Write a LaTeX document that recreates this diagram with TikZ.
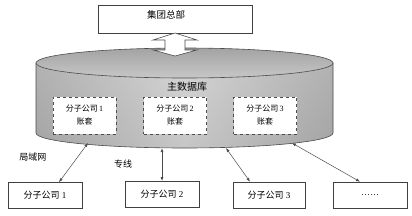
\documentclass[tikz,border=0pt]{standalone}
\usepackage{fontspec}
\setmainfont{Liberation Serif}
\newfontfamily\cjk{Noto Sans CJK SC}
\usetikzlibrary{arrows.meta}
\begin{document}
\begin{tikzpicture}[x=1pt,y=-1pt,
  plainbox/.style={draw=black!75,line width=0.6pt,fill=white,minimum height=26pt,inner sep=0pt,font=\fontsize{9}{10}\selectfont},
  acctbox/.style={draw=black!70,dashed,line width=0.6pt,fill=white,minimum width=63pt,minimum height=37pt,inner sep=0pt,align=center,font=\fontsize{8}{13}\selectfont},
  link/.style={draw=black!70,line width=0.5pt,{Latex[length=4pt,width=3pt]}-{Latex[length=4pt,width=3pt]}},
  lbl/.style={font=\fontsize{9}{10}\selectfont,inner sep=0pt}]
\useasboundingbox (0,0) rectangle (412,215);
% head office
\node[plainbox,minimum width=154pt,minimum height=28pt] (hq) at (175,19) {};
\node[lbl,font=\fontsize{9.5}{10}\selectfont] (hqt) at (166,15) {\cjk 集团总部};
% cylinder body
\def\bodypath{(36,63) -- (36,133) arc[start angle=180,end angle=360,x radius=148.5,y radius=-15] -- (333,63) -- cycle}
\shade[top color=black!30,middle color=white,bottom color=black!40] \bodypath;
\begin{scope}
  \clip \bodypath;
  \shade[left color=black!30,right color=black!30,middle color=white,opacity=0.45]
    (36,50) rectangle (333,150);
\end{scope}
\draw[black!70,line width=0.6pt] \bodypath;
\shade[top color=black!36,bottom color=black!22,draw=black!70,line width=0.6pt]
  (184.5,63) ellipse[x radius=148.5,y radius=15];
% double arrow
\draw[fill=white,draw=black!70,line width=0.6pt] (175,33) -- (197,40) -- (185,40) -- (185,50) -- (197,50) -- (175,56) -- (153,50) -- (165,50) -- (165,40) -- (153,40) -- cycle;
\node[lbl,font=\fontsize{10}{10}\selectfont] (dbt) at (187,87) {\cjk 主数据库};
% account boxes
\node[acctbox] (a1) at (84.5,115.5) {{\cjk 分子公司}\,1\\{\cjk 账套}};
\node[acctbox] (a2) at (175,115.5) {{\cjk 分子公司}\,2\\{\cjk 账套}};
\node[acctbox] (a3) at (265,115.5) {{\cjk 分子公司}\,3\\{\cjk 账套}};
% connection points on cylinder bottom
\coordinate (c1) at (88,143);
\coordinate (c2) at (162,148);
\coordinate (c3) at (226,148);
\coordinate (c4) at (292,143);
% branch boxes
\node[plainbox,minimum width=74pt] (b1) at (45,195.5) {{\cjk 分子公司}\ 1};
\node[plainbox,minimum width=74pt] (b2) at (162,194.5) {{\cjk 分子公司}\ 2};
\node[plainbox,minimum width=72pt] (b3) at (269,195) {{\cjk 分子公司}\ 3};
\node[plainbox,minimum width=74pt] (b4) at (370,195) {……};
\coordinate (e1) at (b1.north -| 59,0);
\coordinate (e3) at (b3.north -| 250,0);
\coordinate (e4) at (b4.north -| 360,0);
% links
\draw[link] (c1) -- (e1);
\draw[link,line width=0.9pt] (c2) -- (b2.north);
\draw[link] (c3) -- (e3);
\draw[link] (c4) -- (e4);
% labels
\node[lbl] (lan) at (33,157) {\cjk 局域网};
\node[lbl] (zx) at (123,164) {\cjk 专线};
\end{tikzpicture}
\end{document}
